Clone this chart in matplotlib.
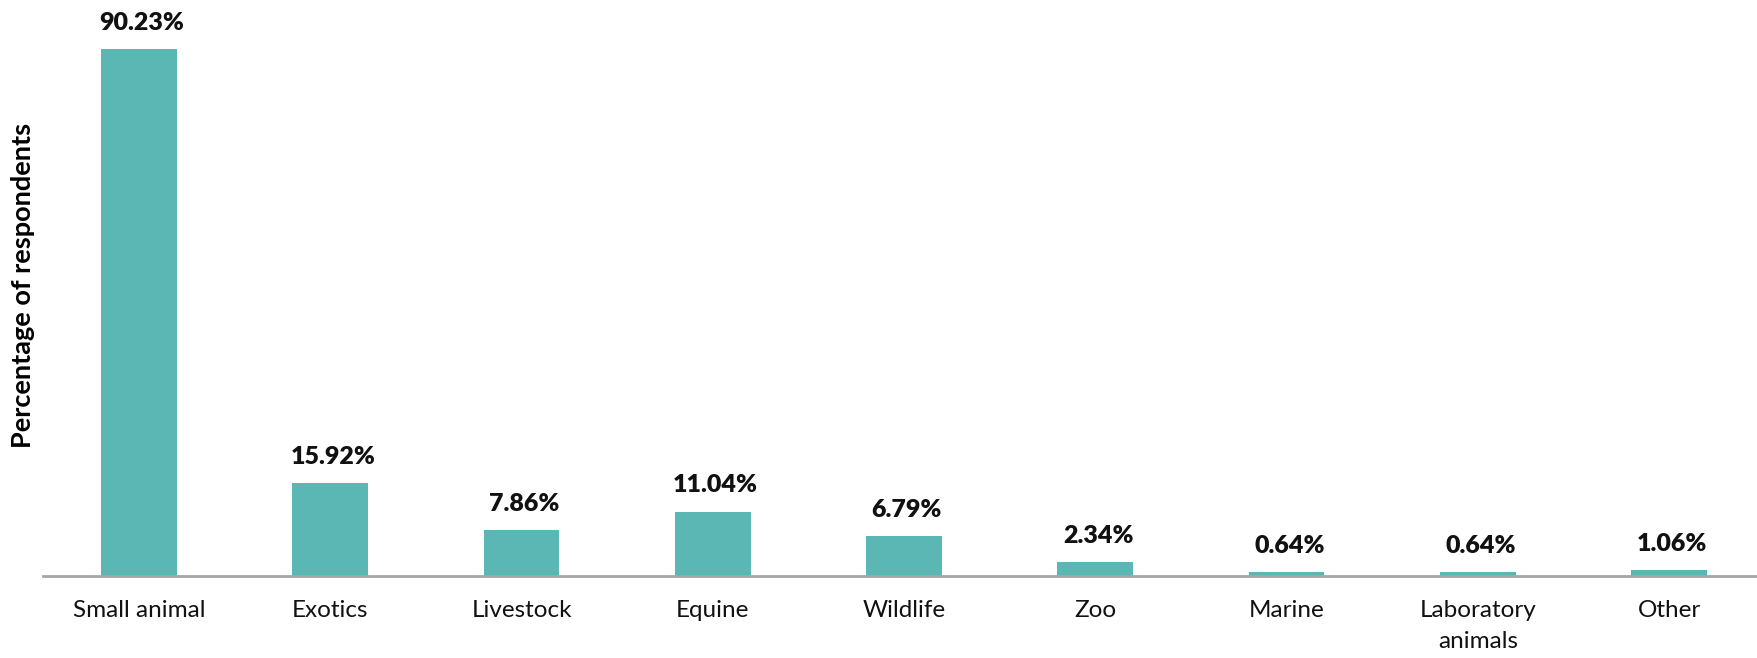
import matplotlib
matplotlib.use("Agg")
import matplotlib.pyplot as plt

categories = ["Small animal", "Exotics", "Livestock", "Equine", "Wildlife",
              "Zoo", "Marine", "Laboratory\nanimals", "Other"]
values = [90.23, 15.92, 7.86, 11.04, 6.79, 2.34, 0.64, 0.64, 1.06]
labels = ["90.23%", "15.92%", "7.86%", "11.04%", "6.79%", "2.34%", "0.64%", "0.64%", "1.06%"]

W, H = 1757, 658
fig = plt.figure(figsize=(W / 100, H / 100), dpi=100)
ax_left = 43 / W
ax_bottom = 1 - 576 / H
ax = fig.add_axes([ax_left, ax_bottom, 1 - ax_left, 1 - ax_bottom])

x = list(range(len(categories)))
ax.bar(x, values, width=0.397, color="#5BB7B3", zorder=2)

for xi, v, lab in zip(x, values, labels):
    ax.annotate(lab, (xi, v), xytext=(2, 11), textcoords="offset points",
                ha="center", va="bottom", fontsize=18, fontweight="heavy",
                family="Lato", color="#111111")

ax.set_xlim(-0.502, 8.46)
ax.set_ylim(0, 98.68)
ax.set_xticks(x)
ax.set_xticklabels(categories, family="Lato", fontsize=17.5, color="#111111",
                   linespacing=1.6)
ax.tick_params(axis="x", length=0, pad=17)
ax.set_yticks([])
for s in ["top", "right", "left"]:
    ax.spines[s].set_visible(False)
ax.spines["bottom"].set_color("#A6A6A6")
ax.spines["bottom"].set_linewidth(2)
ax.patch.set_alpha(0)

fig.text(23 / W, 1 - 285 / H, "Percentage of respondents", rotation=90,
         ha="center", va="center", fontsize=19.5, fontweight="bold",
         family="Lato", color="#000000")

fig.savefig("out.png", dpi=100)
